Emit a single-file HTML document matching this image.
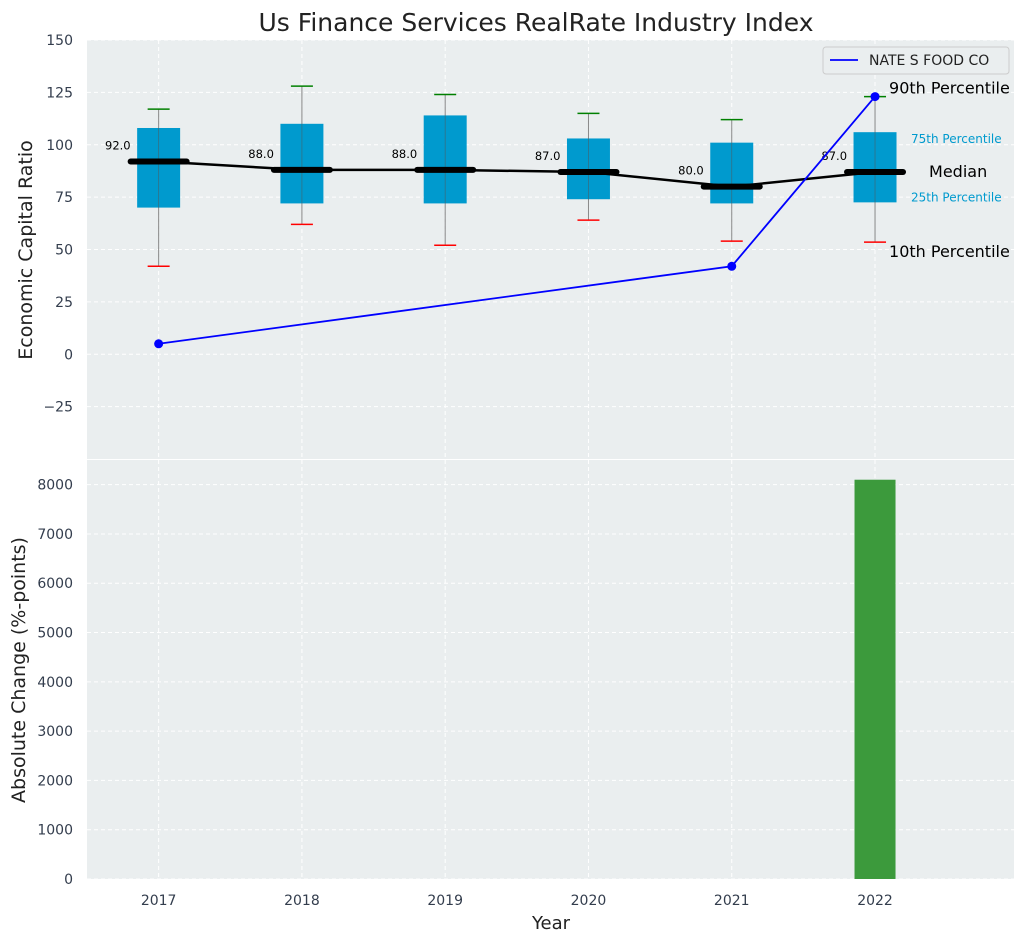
<!DOCTYPE html>
<html><head><meta charset="utf-8"><style>
body{margin:0;background:#fff;font-family:"Liberation Sans","DejaVu Sans",sans-serif}
svg text{font-family:"DejaVu Sans","Liberation Sans",sans-serif}
</style></head><body>
<svg id="c" width="1026" height="942" xmlns="http://www.w3.org/2000/svg"></svg>
<script>
const years=["2017","2018","2019","2020","2021","2022"];
const q1=[70,72,72,74,72,72.5];
const q3=[108,110,114,103,101,106];
const med=[92,88,88,87,80,87];
const p10=[42,62,52,64,54,53.5];
const p90=[117,128,124,115,112,123];
const company=[5,null,null,null,42,123];
const change=[0,0,0,0,0,8100];
const topTicks=[-25,0,25,50,75,100,125,150];
const botTicks=[0,1000,2000,3000,4000,5000,6000,7000,8000];

const svg=document.getElementById('c');const NS="http://www.w3.org/2000/svg";
function el(t,a,p){const e=document.createElementNS(NS,t);for(const k in a)e.setAttribute(k,a[k]);(p||svg).appendChild(e);return e;}
const L=87,R=1014,T1=40,B1=459,T2=460,B2=879;
const x=i=>L+(i+0.5)/6.47*(R-L);
const y1=v=>B1-(v+50)/200*(B1-T1);
const y2=v=>B2-v/8500*(B2-T2);
let r=el('rect',{x:L,y:T1,width:R-L,height:B1-T1,fill:'#eaeeef'});
r=el('rect',{x:L,y:T2,width:R-L,height:B2-T2,fill:'#eaeeef'});
topTicks.forEach(v=>{el('line',{x1:L,x2:R,y1:y1(v),y2:y1(v),stroke:'#fff','stroke-dasharray':'4,3','stroke-width':1});
 const t=el('text',{x:L-14,y:y1(v)+5,'text-anchor':'end','font-size':14,fill:'#333d4d'});t.textContent=v<0?'\u2212'+(-v):v;});
botTicks.forEach(v=>{el('line',{x1:L,x2:R,y1:y2(v),y2:y2(v),stroke:'#fff','stroke-dasharray':'4,3','stroke-width':1});
 const t=el('text',{x:L-14,y:y2(v)+5,'text-anchor':'end','font-size':14,fill:'#333d4d'});t.textContent=v;});
years.forEach((yr,i)=>{el('line',{x1:x(i),x2:x(i),y1:T1,y2:B1,stroke:'#fff','stroke-dasharray':'4,3'});el('line',{x1:x(i),x2:x(i),y1:T2,y2:B2,stroke:'#fff','stroke-dasharray':'4,3'});
 const t=el('text',{x:x(i),y:905,'text-anchor':'middle','font-size':14,fill:'#333d4d'});t.textContent=yr;});
const bw=0.3/6.47*(R-L);
years.forEach((yr,i)=>{const cx=x(i);
 const w=el('line',{x1:cx,x2:cx,y1:y1(p10[i]),y2:y1(p90[i]),stroke:'#888','stroke-width':1});
 const b=el('rect',{x:cx-bw/2,y:y1(q3[i]),width:bw,height:y1(q1[i])-y1(q3[i]),fill:'#009ace'});
 el('line',{x1:cx,x2:cx,y1:y1(q3[i]),y2:y1(q1[i]),stroke:'#555','stroke-width':0.8,opacity:0.6});
 el('line',{x1:cx-11,x2:cx+11,y1:y1(p90[i]),y2:y1(p90[i]),stroke:'green','stroke-width':1.5});
 el('line',{x1:cx-11,x2:cx+11,y1:y1(p10[i]),y2:y1(p10[i]),stroke:'red','stroke-width':1.5});
});
let pts=years.map((_,i)=>x(i)+','+y1(med[i])).join(' ');
let pl=el('polyline',{points:pts,fill:'none',stroke:'#000','stroke-width':2.5});
years.forEach((yr,i)=>{const cx=x(i);
 el('line',{x1:cx-28,x2:cx+28,y1:y1(med[i]),y2:y1(med[i]),stroke:'#000','stroke-width':6,'stroke-linecap':'round'});
 const t=el('text',{x:cx-28,y:y1(med[i])-12,'text-anchor':'end','font-size':11.5,fill:'#000'});t.textContent=med[i].toFixed(1);});
const cp=[];company.forEach((v,i)=>{if(v!==null)cp.push([x(i),y1(v)]);});
pl=el('polyline',{points:cp.map(p=>p.join(',')).join(' '),fill:'none',stroke:'blue','stroke-width':1.8});
cp.forEach(p=>{const c=el('circle',{cx:p[0],cy:p[1],r:4.5,fill:'blue'});});
const ax=x(5);
[[ '90th Percentile',ax+14,y1(p90[5])-3,16,'#000'],['75th Percentile',ax+36,y1(q3[5])+11,12,'#009ace'],['Median',ax+54,y1(med[5])+5,16,'#000'],['25th Percentile',ax+36,y1(q1[5])-1,12,'#009ace'],['10th Percentile',ax+14,y1(p10[5])+15,16,'#000']].forEach(a=>{const t=el('text',{x:a[1],y:a[2],'font-size':a[3],fill:a[4]});t.textContent=a[0];});
change.forEach((v,i)=>{if(!v)return;const bb=el('rect',{x:x(i)-20.5,y:y2(v),width:41,height:y2(0)-y2(v),fill:'#3c9a3c'});});
const lg=el('g',{});
el('rect',{x:823,y:47,width:186,height:27,fill:'#eaeeef',stroke:'#ccc',rx:3},lg);
el('line',{x1:830,x2:858,y1:60,y2:60,stroke:'blue','stroke-width':1.8},lg);
let t=el('text',{x:869,y:65,'font-size':14,fill:'#222'},lg);t.textContent='NATE S FOOD CO';
t=el('text',{x:536,y:31,'text-anchor':'middle','font-size':25,fill:'#222'});t.textContent='Us Finance Services RealRate Industry Index';
t=el('text',{x:32,y:250,'text-anchor':'middle','font-size':19,fill:'#222',transform:'rotate(-90 32 250)'});t.textContent='Economic Capital Ratio';
t=el('text',{x:25,y:670,'text-anchor':'middle','font-size':19,fill:'#222',transform:'rotate(-90 25 670)'});t.textContent='Absolute Change (%-points)';
t=el('text',{x:551,y:929,'text-anchor':'middle','font-size':18,fill:'#222'});t.textContent='Year';
</script>
</body></html>
